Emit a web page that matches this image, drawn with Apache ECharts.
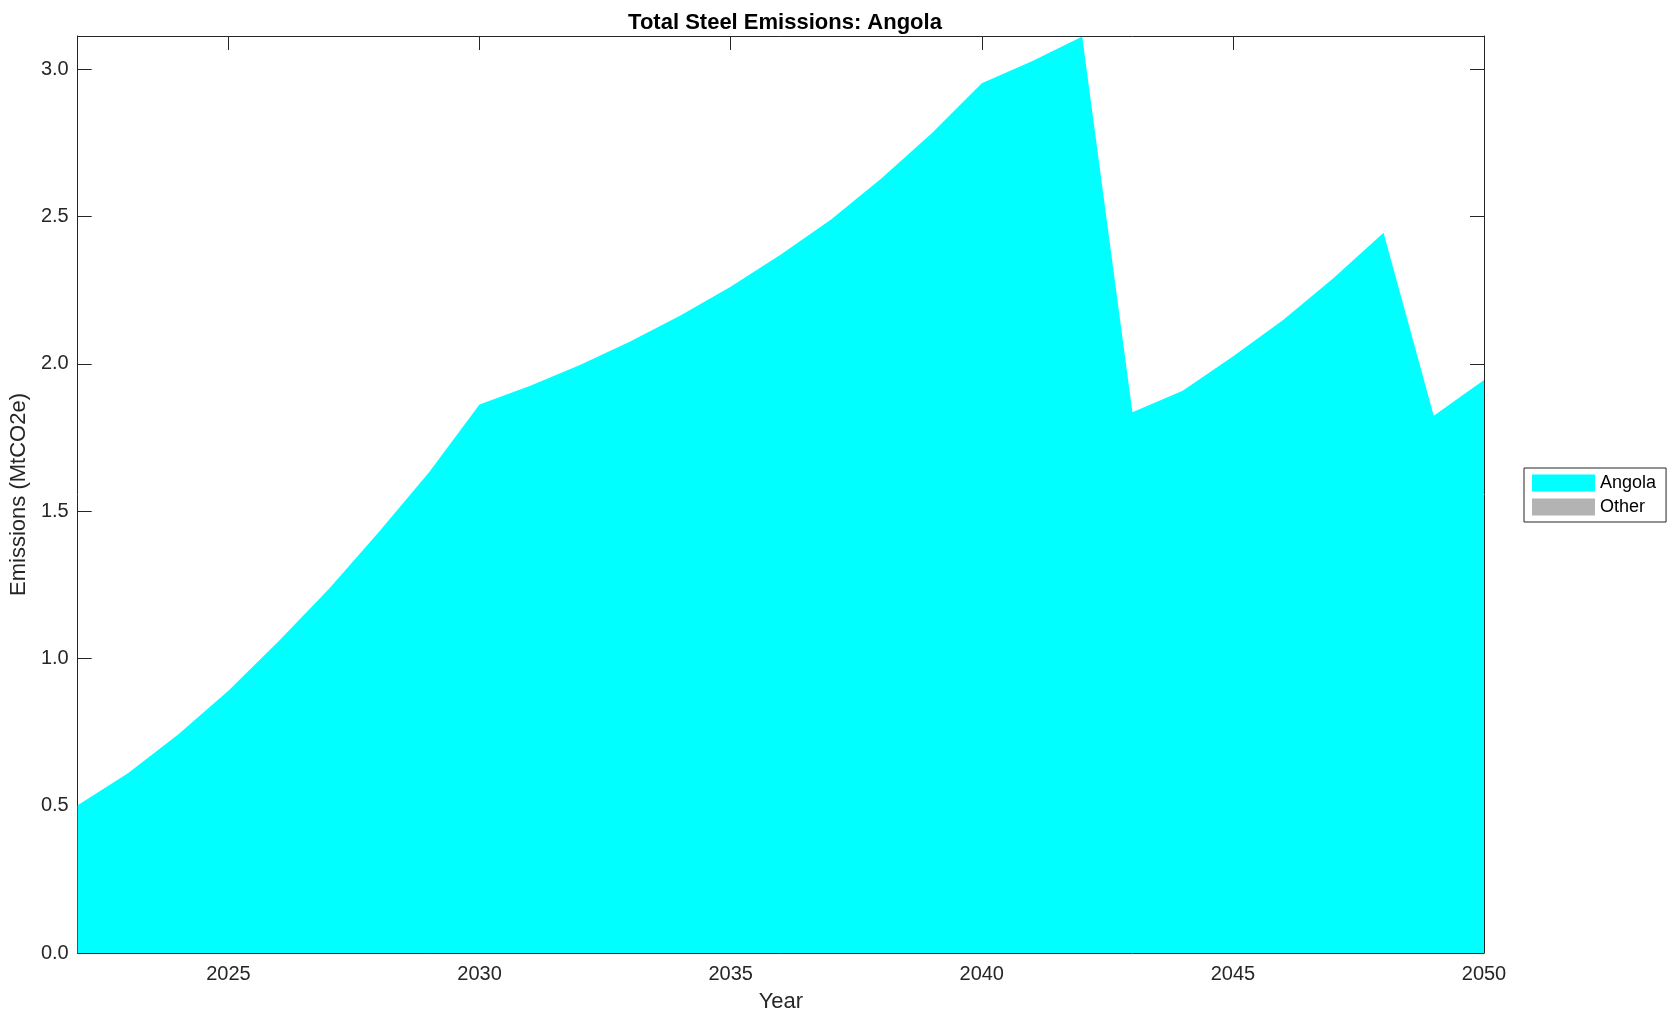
<!DOCTYPE html>
<html>
<head>
<meta charset="utf-8">
<script src="https://cdn.jsdelivr.net/npm/echarts@6/dist/echarts.min.js"></script>
<style>
html,body{margin:0;padding:0;background:#fff;}
#chart{width:1679px;height:1021px;}
</style>
</head>
<body>
<div id="chart"></div>
<script>
const years = [2022,2023,2024,2025,2026,2027,2028,2029,2030,2031,2032,2033,2034,2035,2036,2037,2038,2039,2040,2041,2042,2043,2044,2045,2046,2047,2048,2049,2050];
const angola = [0.502,0.61,0.742,0.89,1.058,1.236,1.43,1.633,1.862,1.925,1.996,2.076,2.164,2.262,2.371,2.49,2.629,2.782,2.953,3.027,3.111,1.836,1.909,2.025,2.149,2.291,2.445,1.824,1.945];
const other = years.map(() => 0);
const xTicks = [2025,2030,2035,2040,2045,2050];
const yTicks = [0,0.5,1,1.5,2,2.5,3];

const font = 'Liberation Sans, Arial, Helvetica, sans-serif';
const axisColor = '#262626';

const chart = echarts.init(document.getElementById('chart'));
const baseX = {
  type: 'value', min: 2022, max: 2050,
  axisLine: {show: true, onZero: false, lineStyle: {color: axisColor, width: 1}},
  axisTick: {show: true, inside: true, length: 14, customValues: xTicks, lineStyle: {color: axisColor}},
  splitLine: {show: false}
};
const baseY = {
  type: 'value', min: 0, max: 3.113,
  axisLine: {show: true, onZero: false, lineStyle: {color: axisColor, width: 1}},
  axisTick: {show: true, inside: true, length: 14, customValues: yTicks, lineStyle: {color: axisColor}},
  splitLine: {show: false}
};
chart.setOption({
  animation: false,
  backgroundColor: '#ffffff',
  title: {
    text: 'Total Steel Emissions: Angola',
    left: 780, top: 7, textAlign: 'center',
    textStyle: {fontFamily: font, fontWeight: 'bold', fontSize: 22, color: '#000'}
  },
  grid: {left: 76, right: 195, top: 36, bottom: 68, containLabel: false},
  legend: {
    orient: 'vertical', left: 1524, top: 468,
    data: ['Angola', 'Other'],
    icon: 'rect', itemWidth: 63, itemHeight: 17, itemGap: 6,
    padding: [6, 10, 6, 8],
    borderColor: axisColor, borderWidth: 1, backgroundColor: '#fff',
    textStyle: {fontFamily: font, fontSize: 18, color: '#000'}
  },
  xAxis: [
    Object.assign({}, baseX, {
      position: 'bottom',
      name: 'Year', nameLocation: 'middle', nameGap: 38,
      nameTextStyle: {fontFamily: font, fontSize: 22, color: axisColor},
      axisLabel: {show: true, customValues: xTicks, margin: 11, fontFamily: font, fontSize: 20, color: axisColor,
        formatter: v => String(v)}
    }),
    Object.assign({}, baseX, {position: 'top', axisLabel: {show: false}})
  ],
  yAxis: [
    Object.assign({}, baseY, {
      position: 'left',
      name: 'Emissions (MtCO2e)', nameLocation: 'middle', nameGap: 42,
      nameTextStyle: {fontFamily: font, fontSize: 22, color: axisColor},
      axisLabel: {show: true, customValues: yTicks, margin: 9, fontFamily: font, fontSize: 20, color: axisColor,
        formatter: v => v.toFixed(1)}
    }),
    Object.assign({}, baseY, {position: 'right', axisLabel: {show: false}})
  ],
  series: [
    {
      name: 'Angola', type: 'line', stack: 'total',
      data: years.map((y, i) => [y, angola[i]]),
      symbol: 'none', lineStyle: {width: 0},
      itemStyle: {color: '#00ffff'},
      areaStyle: {color: '#00ffff', opacity: 1}
    },
    {
      name: 'Other', type: 'line', stack: 'total',
      data: years.map((y, i) => [y, other[i]]),
      symbol: 'none', lineStyle: {width: 0},
      itemStyle: {color: '#b3b3b3'},
      areaStyle: {color: '#b3b3b3', opacity: 1}
    }
  ]
});
</script>
</body>
</html>
